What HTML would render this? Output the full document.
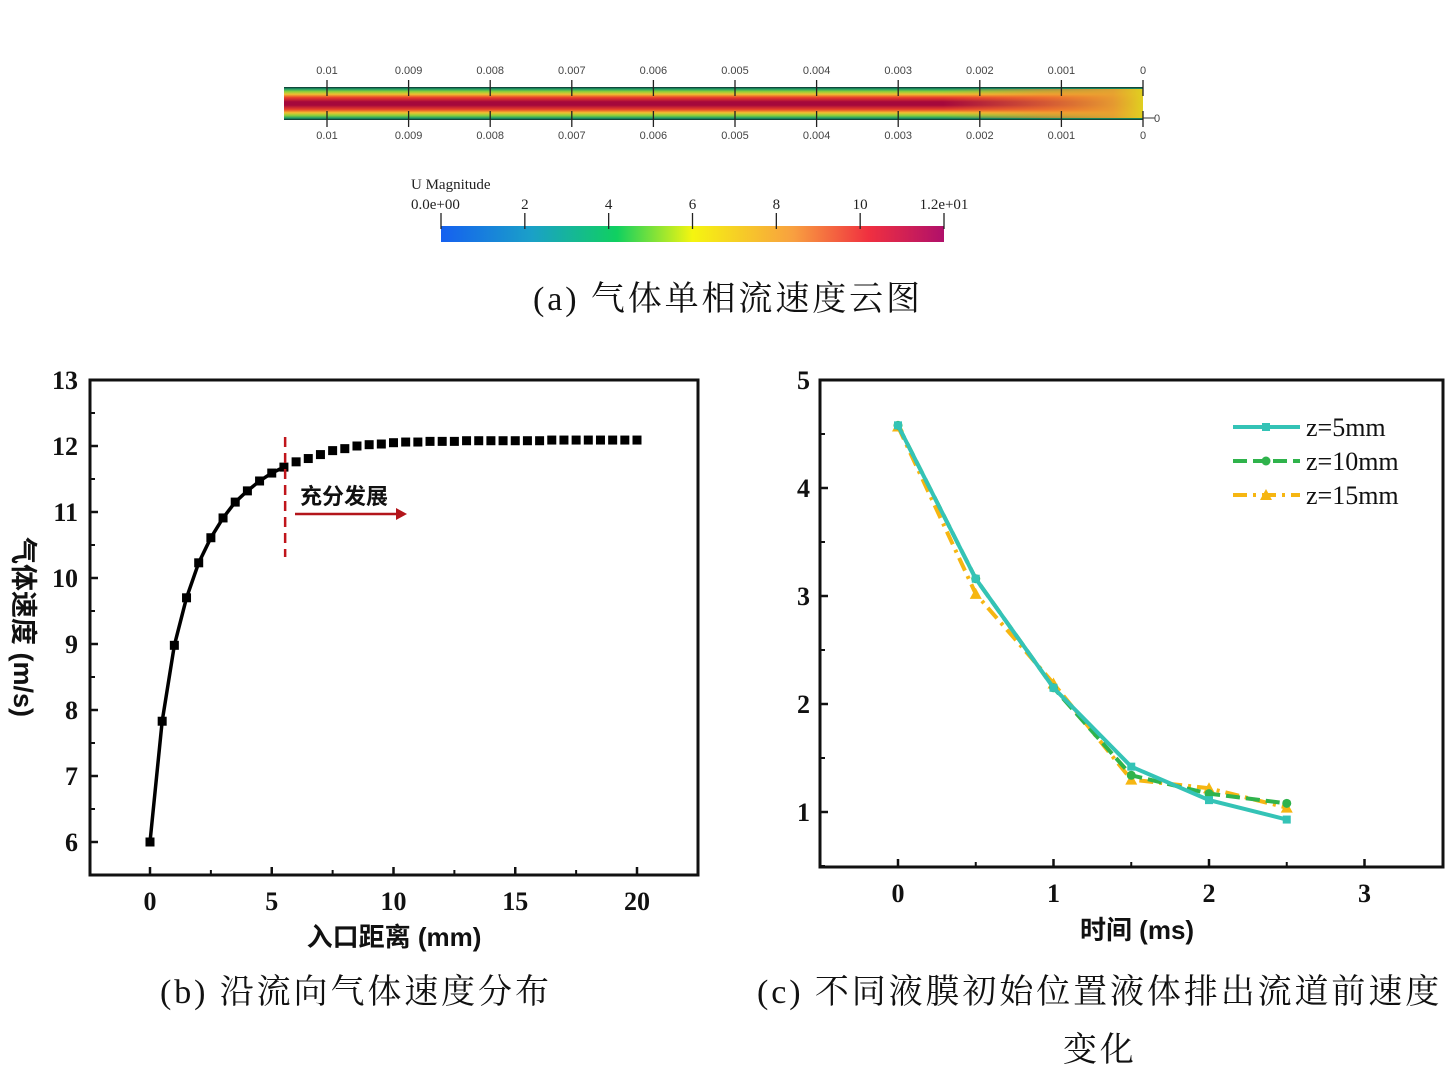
<!DOCTYPE html>
<html><head><meta charset="utf-8">
<style>
html,body{margin:0;padding:0;background:#fff;}
body{width:1456px;height:1091px;position:relative;overflow:hidden;font-family:"Liberation Serif","Noto Serif CJK SC",serif;}
.abs{position:absolute;}
.cap{position:absolute;font-family:"Liberation Serif","Noto Serif CJK SC",serif;font-size:34px;color:#111;white-space:nowrap;letter-spacing:2.9px;}
</style></head>
<body>
<div class="abs" style="left:0;top:0;width:1456px;height:330px;">
<svg width="1456" height="330">
<defs>
<linearGradient id="vg" x1="0" y1="0" x2="0" y2="1">
<stop offset="0" stop-color="#0b2a2a"/><stop offset="0.06" stop-color="#1f9d6a"/><stop offset="0.14" stop-color="#8fd13a"/><stop offset="0.22" stop-color="#f0c030"/><stop offset="0.32" stop-color="#e8402a"/><stop offset="0.45" stop-color="#a5083c"/><stop offset="0.55" stop-color="#a5083c"/><stop offset="0.68" stop-color="#e8402a"/><stop offset="0.78" stop-color="#f0c030"/><stop offset="0.86" stop-color="#8fd13a"/><stop offset="0.94" stop-color="#1f9d6a"/><stop offset="1" stop-color="#0b2a2a"/>
</linearGradient>
<linearGradient id="hg" x1="0" y1="0" x2="1" y2="0">
<stop offset="0" stop-color="#f08a30" stop-opacity="0"/><stop offset="0.5" stop-color="#f08a30" stop-opacity="0.6"/><stop offset="0.85" stop-color="#e8a030" stop-opacity="0.95"/><stop offset="1" stop-color="#e0d020" stop-opacity="1"/>
</linearGradient>
<linearGradient id="cb" x1="0" y1="0" x2="1" y2="0">
<stop offset="0" stop-color="#1560f0"/><stop offset="0.18" stop-color="#1aa0c8"/><stop offset="0.35" stop-color="#10d060"/><stop offset="0.5" stop-color="#f5f510"/><stop offset="0.7" stop-color="#f8a040"/><stop offset="0.85" stop-color="#f03040"/><stop offset="1" stop-color="#b0106a"/>
</linearGradient>
</defs>
<rect x="284" y="87" width="859" height="33" fill="url(#vg)"/>
<rect x="943" y="89" width="200" height="29" fill="url(#hg)"/>
<g id="ctick"></g>
<line x1="1143" y1="118" x2="1155" y2="118" stroke="#333"/>
<text x="1154" y="122" font-size="11" fill="#444" font-family="Liberation Sans">0</text>
<text x="411" y="189" font-size="15" fill="#222">U Magnitude</text>
<rect x="441" y="226" width="503" height="16" fill="url(#cb)"/>
<g id="cbtick"></g>
</svg>
</div>
<div class="cap" style="left:533px;top:271px;">(a) 气体单相流速度云图</div>

<svg class="abs" style="left:0;top:340px" width="740" height="620" id="chartB"></svg>
<svg class="abs" style="left:740px;top:340px" width="716" height="620" id="chartC"></svg>

<div class="cap" style="left:160px;top:964px;">(b) 沿流向气体速度分布</div>
<div class="cap" style="left:757px;top:964px;">(c) 不同液膜初始位置液体排出流道前速度</div>
<div class="cap" style="left:1063px;top:1022px;">变化</div>

<script>
const NS="http://www.w3.org/2000/svg";
function mk(parent,tag,attrs,text){const e=document.createElementNS(NS,tag);for(const k in attrs)e.setAttribute(k,attrs[k]);if(text!==undefined)e.textContent=text;parent.appendChild(e);return e;}

// contour ticks
const cLabels=["0.01","0.009","0.008","0.007","0.006","0.005","0.004","0.003","0.002","0.001","0"];
const ct=document.getElementById('ctick');
cLabels.forEach((l,i)=>{const x=327+i*81.6;
 mk(ct,'line',{x1:x,y1:80,x2:x,y2:96,stroke:'#222','stroke-width':1.3});
 mk(ct,'line',{x1:x,y1:111,x2:x,y2:127,stroke:'#222','stroke-width':1.3});
 let t=mk(ct,'text',{x:x,y:74,'font-size':11,'text-anchor':'middle',fill:'#444','font-family':'Liberation Sans'},l);
 
 let b=mk(ct,'text',{x:x,y:139,'font-size':11,'text-anchor':'middle',fill:'#444','font-family':'Liberation Sans'},l);
 
});
const cbLabels=["0.0e+00","2","4","6","8","10","1.2e+01"];
const cbt=document.getElementById('cbtick');
cbLabels.forEach((l,i)=>{const x=441+i*503/6;
 mk(cbt,'line',{x1:x,y1:213,x2:x,y2:229,stroke:'#222','stroke-width':1.3});
 let t=mk(cbt,'text',{x:i==0?411:(i==6?944:x),y:209,'font-size':15,'text-anchor':i==0?'start':'middle',fill:'#222'},l);
 
});

// ---------- Chart B data ----------
const bX=[0,0.5,1,1.5,2,2.5,3,3.5,4,4.5,5,5.5,6,6.5,7,7.5,8,8.5,9,9.5,10,10.5,11,11.5,12,12.5,13,13.5,14,14.5,15,15.5,16,16.5,17,17.5,18,18.5,19,19.5,20];
const bY=[6.0,7.83,8.98,9.70,10.23,10.61,10.91,11.15,11.32,11.47,11.59,11.68,11.76,11.81,11.87,11.93,11.96,12.0,12.02,12.03,12.05,12.06,12.06,12.07,12.07,12.07,12.08,12.08,12.08,12.08,12.08,12.08,12.08,12.09,12.09,12.09,12.09,12.09,12.09,12.09,12.09];
const bXTicks=[0,5,10,15,20];
const bYTicks=[6,7,8,9,10,11,12,13];
const OX=0,OY=340;
function bx(v){return 150+(v)*24.35-OX;}
function by(v){return 380+(13-v)*66-OY;}
const B=document.getElementById('chartB');
const bold={'font-family':'"Liberation Serif",serif','font-weight':'bold','font-size':26,fill:'#111'};
mk(B,'rect',{x:90,y:380-OY,width:608,height:495,fill:'none',stroke:'#111','stroke-width':3});
bYTicks.forEach(v=>{mk(B,'line',{x1:90,x2:98,y1:by(v),y2:by(v),stroke:'#111','stroke-width':2.5});
 let t=mk(B,'text',Object.assign({x:78,y:by(v)+9,'text-anchor':'end'},bold),v);
 
 if(v<13)mk(B,'line',{x1:90,x2:95,y1:by(v+0.5),y2:by(v+0.5),stroke:'#111','stroke-width':2});});
bXTicks.forEach(v=>{mk(B,'line',{x1:bx(v),x2:bx(v),y1:875-OY,y2:867-OY,stroke:'#111','stroke-width':2.5});
 let t=mk(B,'text',Object.assign({x:bx(v),y:910-OY,'text-anchor':'middle'},bold),v);
 
 if(v<20)mk(B,'line',{x1:bx(v+2.5),x2:bx(v+2.5),y1:875-OY,y2:870-OY,stroke:'#111','stroke-width':2});});
let pts=[];for(let i=0;i<bX.length;i++){if(bX[i]<=5.5)pts.push(bx(bX[i])+','+by(bY[i]));}
mk(B,'polyline',{points:pts.join(' '),fill:'none',stroke:'#000','stroke-width':3.5});
for(let i=0;i<bX.length;i++){const r=mk(B,'rect',{x:bx(bX[i])-4.5,y:by(bY[i])-4.5,width:9,height:9,fill:'#000'});
 }
const dl=mk(B,'line',{x1:bx(5.55),x2:bx(5.55),y1:437-OY,y2:557-OY,stroke:'#c0151b','stroke-width':2.5,'stroke-dasharray':'10,6'});

let ta=mk(B,'text',{x:300,y:504-OY,'font-family':'"Liberation Sans","Noto Sans CJK SC",sans-serif','font-weight':'bold','font-size':22,fill:'#111'},'充分发展');

mk(B,'line',{x1:295,x2:398,y1:514-OY,y2:514-OY,stroke:'#b3151b','stroke-width':2.5});
mk(B,'polygon',{points:`396,${508-OY} 407,${514-OY} 396,${520-OY}`,fill:'#b3151b'});
let xl=mk(B,'text',{x:394,y:946-OY,'text-anchor':'middle','font-family':'"Liberation Sans","Noto Sans CJK SC",sans-serif','font-weight':'bold','font-size':26,fill:'#111'},'入口距离 (mm)');

let yl=mk(B,'text',{x:0,y:0,transform:`translate(14,${627-OY}) rotate(90)`,'text-anchor':'middle','font-family':'"Liberation Sans","Noto Sans CJK SC",sans-serif','font-weight':'bold','font-size':27,fill:'#111'},'气体速度 (m/s)');


// ---------- Chart C data ----------
const cT=[0,0.5,1,1.5,2,2.5];
const cZ5=[4.58,3.16,2.15,1.42,1.11,0.93];
const cZ10=[4.58,3.16,2.15,1.34,1.17,1.08];
const cZ15=[4.57,3.02,2.19,1.30,1.22,1.04];
const cXTicks=[0,1,2,3];
const cYTicks=[1,2,3,4,5];
const OXc=740;
function cx(v){return 898+v*155.5-OXc;}
function cy(v){return 380+(5-v)*108-OY;}
const C=document.getElementById('chartC');
mk(C,'rect',{x:820-OXc,y:380-OY,width:623,height:487,fill:'none',stroke:'#111','stroke-width':3});
cYTicks.forEach(v=>{mk(C,'line',{x1:820-OXc,x2:828-OXc,y1:cy(v),y2:cy(v),stroke:'#111','stroke-width':2.5});
 let t=mk(C,'text',Object.assign({x:810-OXc,y:cy(v)+9,'text-anchor':'end'},bold),v);
 
 mk(C,'line',{x1:820-OXc,x2:825-OXc,y1:cy(v-0.5),y2:cy(v-0.5),stroke:'#111','stroke-width':2});});
cXTicks.forEach(v=>{mk(C,'line',{x1:cx(v),x2:cx(v),y1:867-OY,y2:859-OY,stroke:'#111','stroke-width':2.5});
 let t=mk(C,'text',Object.assign({x:cx(v),y:902-OY,'text-anchor':'middle'},bold),v);
 
 if(v<3)mk(C,'line',{x1:cx(v+0.5),x2:cx(v+0.5),y1:867-OY,y2:862-OY,stroke:'#111','stroke-width':2});});
function series(vals,color,dash,marker,name){
 const p=mk(C,'polyline',{points:cT.map((t,i)=>cx(t)+','+cy(vals[i])).join(' '),fill:'none',stroke:color,'stroke-width':4,'stroke-dasharray':dash});
 
 cT.forEach((t,i)=>{const X=cx(t),Y=cy(vals[i]);let m;
  if(marker=='s')m=mk(C,'rect',{x:X-4,y:Y-4,width:8,height:8,fill:color});
  else if(marker=='c')m=mk(C,'circle',{cx:X,cy:Y,r:4.5,fill:color});
  else m=mk(C,'polygon',{points:`${X},${Y-6} ${X+6},${Y+5} ${X-6},${Y+5}`,fill:color});
  });
}
series(cZ15,'#f6b612','14,6,3,6','t','z15');
series(cZ10,'#2fb34c','14,6','c','z10');
series(cZ5,'#34c3b6','','s','z5');
const leg=[['z=5mm','#34c3b6','','s'],['z=10mm','#2fb34c','14,6','c'],['z=15mm','#f6b612','14,6,3,6','t']];
leg.forEach((l,i)=>{const Y=427+i*34-OY;
 mk(C,'line',{x1:1233-OXc,x2:1300-OXc,y1:Y,y2:Y,stroke:l[1],'stroke-width':4,'stroke-dasharray':l[2]});
 const X=1266-OXc;
 if(l[3]=='s')mk(C,'rect',{x:X-4,y:Y-4,width:8,height:8,fill:l[1]});else if(l[3]=='c')mk(C,'circle',{cx:X,cy:Y,r:4.5,fill:l[1]});else mk(C,'polygon',{points:`${X},${Y-6} ${X+6},${Y+5} ${X-6},${Y+5}`,fill:l[1]});
 let t=mk(C,'text',{x:1306-OXc,y:Y+9,'font-family':'"Liberation Serif",serif','font-size':26,fill:'#111'},l[0]);
 });
let xc=mk(C,'text',{x:1137-OXc,y:939-OY,'text-anchor':'middle','font-family':'"Liberation Sans","Noto Sans CJK SC",sans-serif','font-weight':'bold','font-size':26,fill:'#111'},'时间 (ms)');

let yc=mk(C,'text',{x:0,y:0,transform:`translate(757,${623-OY}) rotate(90)`,'text-anchor':'middle','font-family':'"Liberation Sans","Noto Sans CJK SC",sans-serif','font-weight':'bold','font-size':27,fill:'#111'},'液体速度 (m/s)');

</script>
</body></html>
